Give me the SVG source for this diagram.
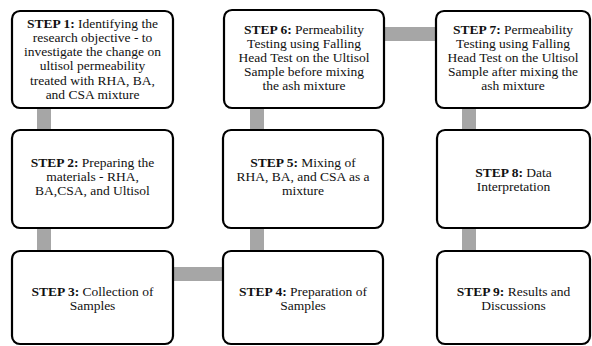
<svg xmlns="http://www.w3.org/2000/svg" width="592" height="346" viewBox="0 0 592 346">
<style>
.box{fill:#fff;stroke:#000;stroke-width:2.2}
.con{stroke:#a6a6a6;stroke-width:14;fill:none}
.t text{font-family:'Liberation Serif','DejaVu Serif',serif;font-size:13.5px;fill:#111;text-anchor:middle}
.b{font-weight:bold}
</style>
<rect width="592" height="346" fill="#fff"/>
<g id="connectors">
<line class="con" x1="44" y1="107" x2="44" y2="131"/>
<line class="con" x1="44" y1="227" x2="44" y2="252"/>
<line class="con" x1="172" y1="274" x2="224" y2="274"/>
<line class="con" x1="257" y1="227" x2="257" y2="252"/>
<line class="con" x1="257" y1="107" x2="257" y2="131"/>
<line class="con" x1="383" y1="34" x2="437" y2="34"/>
<line class="con" x1="469" y1="107" x2="469" y2="131"/>
<line class="con" x1="469" y1="227" x2="469" y2="252"/>
</g>
<g class="t">
<g id="step1">
<rect class="box" x="12" y="11" width="161" height="97" rx="8"/>
<text x="92.5" y="27.5"><tspan class="b">STEP 1:</tspan> Identifying the</text>
<text x="92.5" y="41.8">research objective - to</text>
<text x="92.5" y="56.1">investigate the change on</text>
<text x="92.5" y="70.4">ultisol permeability</text>
<text x="92.5" y="84.7">treated with RHA, BA,</text>
<text x="92.5" y="99">and CSA mixture</text>
</g>
<g id="step2">
<rect class="box" x="12" y="130" width="161" height="98" rx="8"/>
<text x="92.5" y="167"><tspan class="b">STEP 2:</tspan> Preparing the</text>
<text x="92.5" y="181">materials - RHA,</text>
<text x="92.5" y="195">BA,CSA, and Ultisol</text>
</g>
<g id="step3">
<rect class="box" x="12" y="251" width="161" height="93" rx="8"/>
<text x="92.5" y="296"><tspan class="b">STEP 3:</tspan> Collection of</text>
<text x="92.5" y="310">Samples</text>
</g>
<g id="step4">
<rect class="box" x="223" y="251" width="160" height="93" rx="8"/>
<text x="303" y="296"><tspan class="b">STEP 4:</tspan> Preparation of</text>
<text x="303" y="310">Samples</text>
</g>
<g id="step5">
<rect class="box" x="223" y="130" width="160" height="98" rx="8"/>
<text x="303" y="167"><tspan class="b">STEP 5:</tspan> Mixing of</text>
<text x="303" y="181">RHA, BA, and CSA as a</text>
<text x="303" y="195">mixture</text>
</g>
<g id="step6">
<rect class="box" x="224" y="10" width="160" height="98" rx="8"/>
<text x="304" y="34"><tspan class="b">STEP 6:</tspan> Permeability</text>
<text x="304" y="48">Testing using Falling</text>
<text x="304" y="62">Head Test on the Ultisol</text>
<text x="304" y="76">Sample before mixing</text>
<text x="304" y="90">the ash mixture</text>
</g>
<g id="step7">
<rect class="box" x="436" y="11" width="154" height="97" rx="8"/>
<text x="513" y="34"><tspan class="b">STEP 7:</tspan> Permeability</text>
<text x="513" y="48">Testing using Falling</text>
<text x="513" y="62">Head Test on the Ultisol</text>
<text x="513" y="76">Sample after mixing the</text>
<text x="513" y="90">ash mixture</text>
</g>
<g id="step8">
<rect class="box" x="437" y="130" width="153" height="98" rx="8"/>
<text x="513.5" y="177"><tspan class="b">STEP 8:</tspan> Data</text>
<text x="513.5" y="191">Interpretation</text>
</g>
<g id="step9">
<rect class="box" x="437" y="251" width="153" height="93" rx="8"/>
<text x="513.5" y="296"><tspan class="b">STEP 9:</tspan> Results and</text>
<text x="513.5" y="310">Discussions</text>
</g>
</g>
</svg>
